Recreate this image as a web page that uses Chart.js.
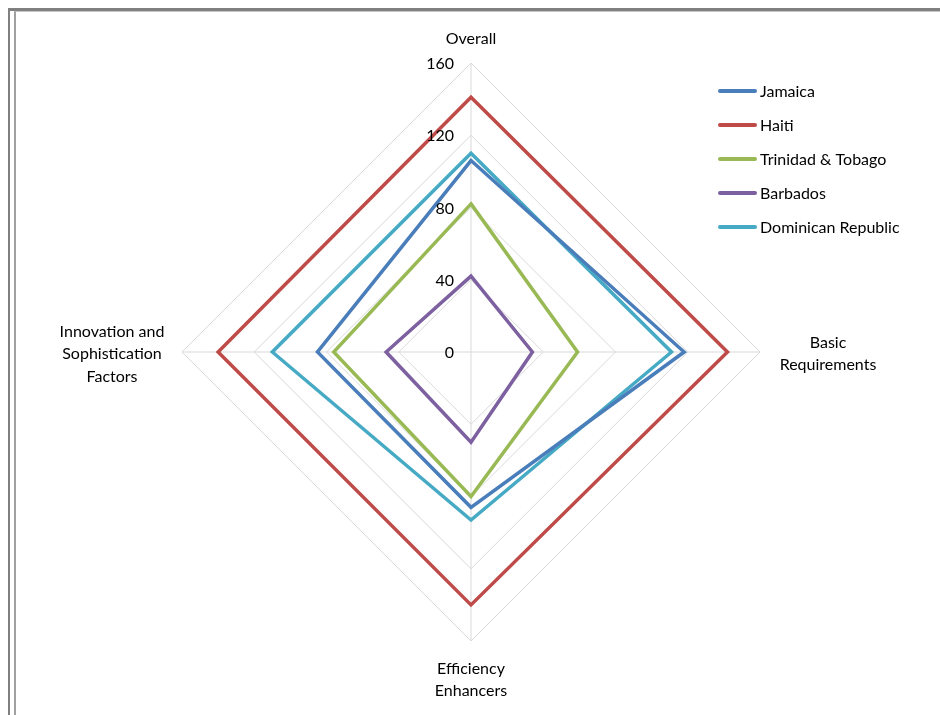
<!DOCTYPE html>
<html>
<head>
<meta charset="utf-8">
<script src="https://cdn.jsdelivr.net/npm/chart.js@4.4.1/dist/chart.umd.min.js"></script>
<style>
  html, body { margin: 0; padding: 0; background: #fff; }
  .wrap { position: relative; width: 940px; height: 715px; overflow: hidden; }
  .frame-outer { position: absolute; left: 8px; top: 8px; right: -10px; bottom: -10px; border-top: 3px solid #808080; border-left: 2px solid #808080; }
  .frame-inner { position: absolute; left: 14px; top: 11px; right: -10px; bottom: -10px; border-left: 2px solid #a0a0a0; border-top: 1px solid #c8c8c8; }
  canvas { position: absolute; left: 0; top: 0; }
</style>
</head>
<body>
<div class="wrap">
  <div class="frame-outer"></div>
  <div class="frame-inner"></div>
  <canvas id="chart" width="940" height="715"></canvas>
</div>
<script>
// axes (clockwise from top)
const categories = ['Overall', 'Basic Requirements', 'Efficiency Enhancers', 'Innovation and Sophistication Factors'];
const tickValues = [0, 40, 80, 120, 160];

const countries = ['Jamaica', 'Haiti', 'Trinidad & Tobago', 'Barbados', 'Dominican Republic'];
const jamaica   = [106, 118, 86, 85];
const haiti     = [141, 142, 140, 140];
const trinidad  = [82, 59, 80, 76];
const barbados  = [42, 34, 50, 47];
const dominican = [110, 111, 93, 110];
const colors = ['#4a7ebb', '#be4b48', '#98b954', '#7d60a0', '#46aac5'];

const FONT = 'Lato, "Open Sans", sans-serif';

// labels split for wrapping, placed round the outer ring
const labelLines = [
  ['Overall'],
  ['Basic', 'Requirements'],
  ['Efficiency', 'Enhancers'],
  ['Innovation and', 'Sophistication', 'Factors']
];

const radarText = {
  id: 'radarText',
  afterDraw(chart) {
    const ctx = chart.ctx;
    const r = chart.scales.r;
    const top = tickValues[tickValues.length - 1];
    ctx.save();
    ctx.fillStyle = '#000';
    ctx.font = '16px ' + FONT;

    // tick values, left of the vertical axis
    ctx.textAlign = 'right';
    ctx.textBaseline = 'middle';
    tickValues.forEach(v => {
      const p = r.getPointPositionForValue(0, v);
      ctx.fillText(String(v), p.x - 17, p.y + 1);
    });

    // axis names
    const lh = 22.5;
    labelLines.forEach((lines, i) => {
      const p = r.getPointPositionForValue(i, top);
      const h = lines.length * lh;
      let cx, cy;
      if (i === 0) { cx = p.x; cy = p.y - 24; }
      else if (i === 1) { cx = p.x + 68; cy = p.y + 2; }
      else if (i === 2) { cx = p.x; cy = p.y + 39; }
      else { cx = p.x - 70; cy = p.y + 2; }
      ctx.textAlign = 'center';
      lines.forEach((t, k) => {
        ctx.fillText(t, cx, cy - h / 2 + lh / 2 + k * lh);
      });
    });

    // legend
    ctx.textAlign = 'left';
    chart.data.datasets.forEach((ds, k) => {
      const y = 91 + k * 34;
      ctx.strokeStyle = ds.borderColor;
      ctx.lineWidth = 4;
      ctx.lineCap = 'round';
      ctx.beginPath();
      ctx.moveTo(720, y);
      ctx.lineTo(755, y);
      ctx.stroke();
      ctx.fillText(ds.label, 760, y + 1);
    });
    ctx.restore();
  }
};

const series = [jamaica, haiti, trinidad, barbados, dominican];

new Chart(document.getElementById('chart'), {
  type: 'radar',
  data: {
    labels: categories,
    datasets: series.map((d, k) => ({
      label: countries[k],
      data: d,
      borderColor: colors[k],
      backgroundColor: 'transparent',
      borderWidth: 3.5,
      pointRadius: 0,
      fill: false,
      tension: 0
    }))
  },
  options: {
    responsive: false,
    animation: false,
    layout: { padding: { left: 182, right: 179, top: 63, bottom: 74 } },
    plugins: { legend: { display: false }, tooltip: { enabled: false } },
    elements: { line: { borderJoinStyle: 'miter' } },
    scales: {
      r: {
        min: 0,
        max: 160,
        ticks: { stepSize: 40, display: false },
        grid: { color: '#d9d9d9', lineWidth: 1 },
        angleLines: { color: '#d9d9d9', lineWidth: 1 },
        pointLabels: { display: false }
      }
    }
  },
  plugins: [radarText]
});
</script>
</body>
</html>
